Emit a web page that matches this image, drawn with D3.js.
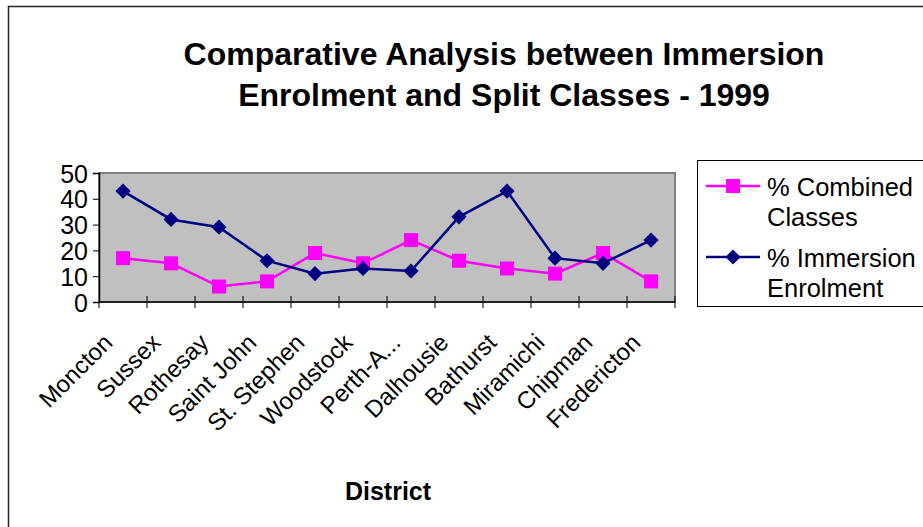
<!DOCTYPE html>
<html>
<head>
<meta charset="utf-8">
<script src="https://cdn.jsdelivr.net/npm/d3@7"></script>
<style>
  body { margin: 0; background: #fff; }
  text { font-family: "Liberation Sans", Arial, sans-serif; }
</style>
</head>
<body>
<div class="canva"></div>
<script>
// data
const districts = ['Moncton', 'Sussex', 'Rothesay', 'Saint John', 'St. Stephen', 'Woodstock',
  'Perth-A...', 'Dalhousie', 'Bathurst', 'Miramichi', 'Chipman', 'Fredericton'];
const combined = [17, 15, 6, 8, 19, 15, 24, 16, 13, 11, 19, 8];
const immersion = [43, 32, 29, 16, 11, 13, 12, 33, 43, 17, 15, 24];
const yTicks = [0, 10, 20, 30, 40, 50];
const titleLines = ['Comparative Analysis between Immersion', 'Enrolment and Split Classes - 1999'];

const width = 923, height = 527;
const plot = { left: 99, right: 675, top: 173, bottom: 302 };
const font = '"Liberation Sans", Arial, sans-serif';

const svg = d3.select('.canva').append('svg')
  .attr('width', width)
  .attr('height', height);

// outer chart border (runs off the window on the right/bottom)
svg.append('rect')
  .attr('x', 8.5).attr('y', 6.5)
  .attr('width', 940).attr('height', 560)
  .attr('fill', '#fff')
  .attr('stroke', '#222').attr('stroke-width', 1.5);

// title
svg.append('text')
  .attr('x', 504).attr('y', 65)
  .attr('text-anchor', 'middle')
  .style('font-size', '32px').style('font-weight', 'bold')
  .selectAll('tspan').data(titleLines).enter().append('tspan')
  .attr('x', 504)
  .attr('dy', (d, i) => i == 0 ? 0 : 41)
  .text(d => d);

const x = d3.scaleBand().domain(districts).range([plot.left, plot.right]);
const y = d3.scaleLinear().domain([0, 50]).range([plot.bottom, plot.top]);

// plot area
svg.append('rect')
  .attr('x', plot.left).attr('y', plot.top)
  .attr('width', plot.right - plot.left).attr('height', plot.bottom - plot.top)
  .attr('fill', '#c0c0c0')
  .attr('stroke', '#808080').attr('stroke-width', 2);

// y axis
const yAxis = svg.append('g')
  .attr('transform', 'translate(' + plot.left + ',0)')
  .call(d3.axisLeft(y).tickValues(yTicks).tickSize(6).tickPadding(5));
yAxis.attr('font-size', null).attr('font-family', font);
yAxis.select('.domain').attr('stroke', '#000').attr('stroke-width', 1.5);
yAxis.selectAll('.tick line').attr('stroke', '#000');
yAxis.selectAll('.tick text')
  .style('font-size', '25px').attr('fill', '#000')
  .attr('dy', '0.36em');

// x axis, ticks between categories
const xAxis = svg.append('g')
  .attr('transform', 'translate(0,' + plot.bottom + ')');
xAxis.append('line')
  .attr('x1', plot.left).attr('x2', plot.right)
  .attr('stroke', '#000').attr('stroke-width', 1.5);
xAxis.selectAll('.tk').data(districts).enter().append('line')
  .attr('x1', d => x(d) + x.bandwidth()).attr('x2', d => x(d) + x.bandwidth())
  .attr('y1', -6).attr('y2', 6)
  .attr('stroke', '#000');
xAxis.append('line')
  .attr('x1', plot.left).attr('x2', plot.left).attr('y1', 0).attr('y2', 6)
  .attr('stroke', '#000');
xAxis.selectAll('.lbl').data(districts).enter().append('text')
  .attr('transform', d => 'translate(' + (x(d) + x.bandwidth() / 2 - 9) + ',42) rotate(-45)')
  .attr('text-anchor', 'end')
  .style('font-size', '24px')
  .text(d => d);

// x axis title
svg.append('text')
  .attr('x', 388).attr('y', 500)
  .attr('text-anchor', 'middle')
  .style('font-size', '25px').style('font-weight', 'bold')
  .text('District');

const cx = (d, i) => x(districts[i]) + x.bandwidth() / 2;
const line = d3.line().x(cx).y(d => y(d));

const square = d3.symbol().type(d3.symbolSquare).size(196);
const diamond = d3.symbol().type(d3.symbolSquare).size(115);

// combined classes series
svg.append('path').datum(combined)
  .attr('d', line).attr('fill', 'none')
  .attr('stroke', '#ff00ff').attr('stroke-width', 2.5);
svg.selectAll('.sq').data(combined).enter().append('path')
  .attr('d', square)
  .attr('transform', (d, i) => 'translate(' + cx(d, i) + ',' + y(d) + ')')
  .attr('fill', '#ff00ff');

// immersion series
svg.append('path').datum(immersion)
  .attr('d', line).attr('fill', 'none')
  .attr('stroke', '#000080').attr('stroke-width', 2.5);
svg.selectAll('.dm').data(immersion).enter().append('path')
  .attr('d', diamond)
  .attr('transform', (d, i) => 'translate(' + cx(d, i) + ',' + y(d) + ') rotate(45)')
  .attr('fill', '#000080');

// legend
const legend = svg.append('g');
legend.append('rect')
  .attr('x', 697.5).attr('y', 160.5)
  .attr('width', 240).attr('height', 146)
  .attr('fill', '#fff').attr('stroke', '#000').attr('stroke-width', 1);

const legendItems = [
  { name: ['% Combined', 'Classes'], color: '#ff00ff', sym: square, rot: 0, y: 186 },
  { name: ['% Immersion', 'Enrolment'], color: '#000080', sym: diamond, rot: 45, y: 257 }
];
legendItems.forEach(item => {
  legend.append('line')
    .attr('x1', 706).attr('x2', 760).attr('y1', item.y).attr('y2', item.y)
    .attr('stroke', item.color).attr('stroke-width', 2.5);
  legend.append('path')
    .attr('d', item.sym)
    .attr('transform', 'translate(733,' + item.y + ') rotate(' + item.rot + ')')
    .attr('fill', item.color);
  legend.append('text')
    .attr('x', 767).attr('y', item.y + 10)
    .style('font-size', '25.5px')
    .selectAll('tspan').data(item.name).enter().append('tspan')
    .attr('x', 767)
    .attr('dy', (d, i) => i == 0 ? 0 : 30)
    .text(d => d);
});
</script>
</body>
</html>
